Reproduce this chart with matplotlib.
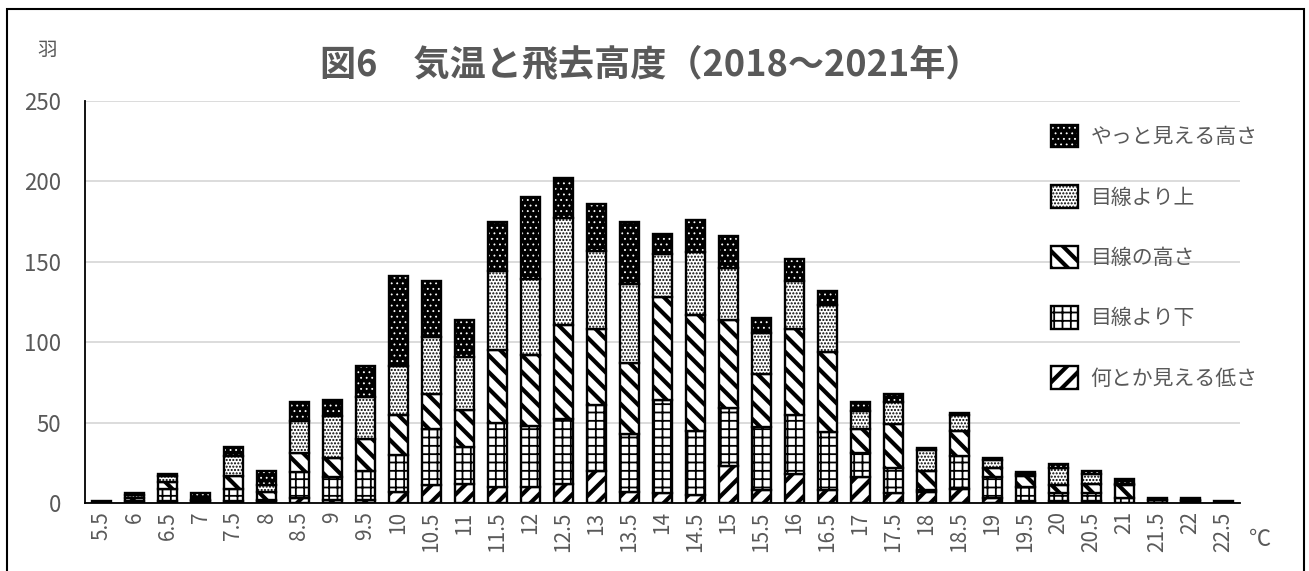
import matplotlib.pyplot as plt
import matplotlib.patches as mpatches
from matplotlib.legend_handler import HandlerTuple, HandlerPatch
import numpy as np

plt.rcParams['font.family'] = ['Noto Sans CJK JP', 'DejaVu Sans']

# 気温 (℃)
temps = ['5.5', '6', '6.5', '7', '7.5', '8', '8.5', '9', '9.5', '10',
         '10.5', '11', '11.5', '12', '12.5', '13', '13.5', '14', '14.5', '15',
         '15.5', '16', '16.5', '17', '17.5', '18', '18.5', '19', '19.5', '20',
         '20.5', '21', '21.5', '22', '22.5']

# 飛去高度ごとの羽数 (下から積み上げ順)
low = [0, 0, 1, 0, 1, 1, 3, 2, 2, 7,
       11, 12, 10, 10, 12, 20, 7, 6, 5, 23,
       8, 18, 8, 16, 6, 7, 9, 3, 1, 1,
       1, 0, 0, 0, 0]
below = [0, 1, 8, 1, 8, 1, 16, 14, 18, 23,
         35, 23, 40, 38, 40, 41, 36, 58, 40, 36,
         39, 37, 36, 15, 16, 1, 20, 13, 9, 5,
         5, 3, 2, 1, 0]
level = [0, 2, 4, 0, 8, 5, 12, 12, 20, 25,
         22, 23, 45, 44, 59, 47, 44, 64, 72, 55,
         33, 53, 50, 15, 27, 12, 16, 6, 7, 5,
         6, 8, 0, 0, 0]
above = [0, 2, 4, 1, 12, 4, 20, 26, 26, 30,
         35, 33, 49, 47, 66, 49, 49, 27, 39, 32,
         26, 30, 29, 11, 14, 13, 10, 5, 1, 11,
         6, 1, 0, 1, 0]
high = [1, 1, 1, 4, 6, 9, 12, 10, 19, 56,
        35, 23, 31, 51, 25, 29, 39, 12, 20, 20,
        9, 14, 9, 6, 5, 1, 1, 1, 1, 2,
        2, 3, 1, 1, 1]

labels = ['何とか見える低さ', '目線より下', '目線の高さ', '目線より上', 'やっと見える高さ']
values = [low, below, level, above, high]
# (面の色, ハッチの色, ハッチ, ハッチの線幅)
styles = [('white', 'black', '//', 3.0),
          ('white', 'black', '++', 1.3),
          ('white', 'black', '\\\\', 3.0),
          ('white', 'black', '.....', 1.0),
          ('black', 'white', '...', 0.6)]

gray = '#595959'


# 凡例でもハッチの線幅を揃えるためのハンドラ
class HatchHandler(HandlerPatch):
    def __init__(self, hlw, **kw):
        super().__init__(**kw)
        self.hlw = hlw

    def create_artists(self, *args, **kw):
        with plt.rc_context({'hatch.linewidth': self.hlw}):
            return super().create_artists(*args, **kw)


fig = plt.figure(figsize=(13.09, 5.71), dpi=100)
ax = fig.add_axes([85 / 1309, 1 - 503 / 571, 1155 / 1309, 402 / 571])

x = np.arange(len(temps))
bottom = np.zeros(len(temps))
handles = []
hmap = {tuple: HandlerTuple(ndivide=1, pad=0)}
for lab, vals, (fc, hc, hatch, hlw) in zip(labels, values, styles):
    vals = np.array(vals, dtype=float)
    with plt.rc_context({'hatch.linewidth': hlw}):
        ax.bar(x, vals, bottom=bottom, width=0.6, facecolor=fc, edgecolor=hc,
               hatch=hatch, linewidth=0)
    p1 = mpatches.Patch(facecolor=fc, edgecolor=hc, hatch=hatch, linewidth=0)
    hmap[p1] = HatchHandler(hlw)
    ax.bar(x, vals, bottom=bottom, width=0.6, fill=False, edgecolor='black', linewidth=1.7)
    p2 = mpatches.Patch(fill=False, edgecolor='black', linewidth=1.7)
    handles.append((p1, p2))
    bottom += vals

ax.set_xlim(-0.5, len(temps) - 0.5)
ax.set_ylim(0, 250)
ax.set_yticks(np.arange(0, 251, 50))
ax.set_xticks(x)
ax.set_xticklabels(temps, rotation=90)
ax.yaxis.grid(True, color='#d9d9d9', linewidth=1.3)
ax.set_axisbelow(True)
for s in ['top', 'right']:
    ax.spines[s].set_visible(False)
for s in ['left', 'bottom']:
    ax.spines[s].set_color('black')
    ax.spines[s].set_linewidth(1.3)
ax.tick_params(length=0, labelcolor=gray, labelsize=15)
ax.tick_params(axis='y', labelsize=16, pad=17)
ax.tick_params(axis='x', pad=6)

fig.text(0.497, 0.886, '図6　気温と飛去高度（2018～2021年）', ha='center', va='center',
         fontsize=26, fontweight='bold', color=gray)
fig.text(47 / 1309, 1 - 50 / 571, '羽', ha='center', va='center', fontsize=14, color=gray)
fig.text(1260 / 1309, 1 - 540 / 571, '℃', ha='center', va='center', fontsize=16, color=gray)

fig.legend(handles[::-1], labels[::-1], loc='upper left',
           bbox_to_anchor=(1032 / 1309, 1 - 106 / 571), frameon=False,
           handler_map=hmap,
           handlelength=1.3, handleheight=1.3, labelspacing=1.78,
           handletextpad=0.6, fontsize=15, labelcolor=gray)

# 外枠
fig.add_artist(mpatches.Rectangle((7 / 1309, -0.05), 1297 / 1309, 1.05 - 9 / 571,
                                  transform=fig.transFigure, fill=False,
                                  edgecolor='black', linewidth=1.5))

fig.savefig('out.png', dpi=100)
